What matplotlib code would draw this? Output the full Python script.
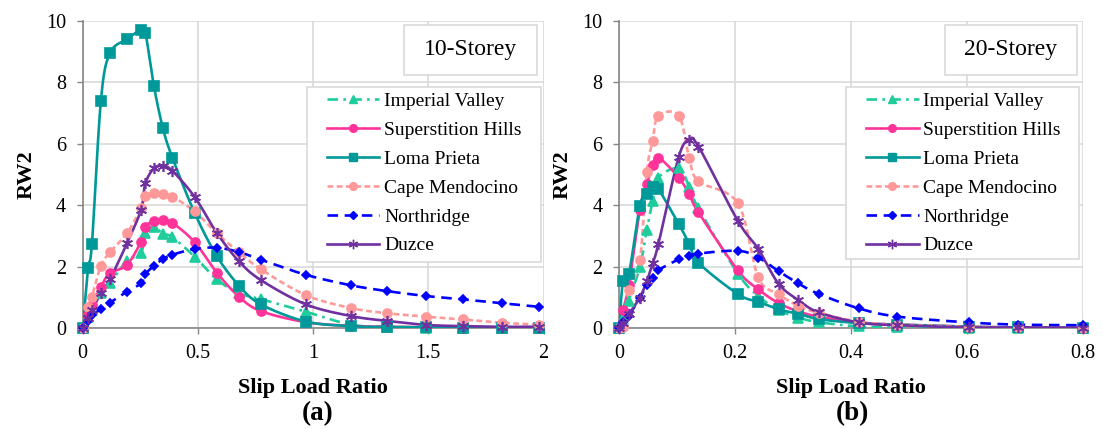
import numpy as np
import matplotlib
matplotlib.use("Agg")
import matplotlib.pyplot as plt
from matplotlib.lines import Line2D
from matplotlib.patches import Rectangle

plt.rcParams['font.family'] = ['Liberation Serif', 'DejaVu Serif']

# ---------------- data ----------------
series_names = ["Imperial Valley", "Superstition Hills", "Loma Prieta",
                "Cape Mendocino", "Northridge", "Duzce"]

x10 = [0, 0.023, 0.040, 0.079, 0.118, 0.192, 0.253, 0.272, 0.309, 0.348, 0.389,
       0.486, 0.582, 0.678, 0.773, 0.968, 1.163, 1.32, 1.49, 1.65, 1.82, 1.98]
imperial10 = [0, 0.38, 0.60, 1.14, 1.46, 2.19, 2.45, 3.10, 3.29, 3.08, 2.96,
              2.33, 1.59, 1.14, 0.95, 0.54, 0.12, 0.05, 0.02, 0.01, 0.01, 0.01]
superstition10 = [0, 0.42, 0.75, 1.35, 1.79, 2.06, 2.82, 3.30, 3.49, 3.52, 3.43,
                  2.80, 1.81, 1.03, 0.56, 0.20, 0.08, 0.05, 0.03, 0.02, 0.02, 0.02]
loma10 = [0, 1.95, 2.74, 7.40, 8.94, 9.40, 9.70, 9.61, 7.88, 6.51, 5.55,
          3.75, 2.35, 1.39, 0.78, 0.22, 0.07, 0.04, 0.03, 0.02, 0.02, 0.02]
cape10 = [0, 0.68, 1.03, 2.03, 2.47, 3.09, 3.90, 4.31, 4.39, 4.37, 4.28,
          3.80, 3.09, 2.47, 1.92, 1.08, 0.66, 0.49, 0.38, 0.29, 0.18, 0.12]
northridge10 = [0, 0.25, 0.42, 0.62, 0.83, 1.19, 1.46, 1.76, 2.03, 2.25, 2.39,
                2.58, 2.62, 2.48, 2.23, 1.74, 1.40, 1.21, 1.05, 0.94, 0.81, 0.70]
duzce10 = [0, 0.33, 0.60, 1.14, 1.59, 2.76, 3.85, 4.71, 5.20, 5.28, 5.12,
           4.27, 3.10, 2.18, 1.57, 0.78, 0.40, 0.24, 0.11, 0.07, 0.05, 0.05]

x20 = [0, 0.007, 0.017, 0.036, 0.048, 0.058, 0.068, 0.103, 0.121, 0.137,
       0.205, 0.240, 0.275, 0.309, 0.344, 0.413, 0.480, 0.603, 0.688, 0.80]
imperial20 = [0, 0.30, 0.90, 2.00, 3.20, 4.15, 4.90, 5.20, 4.60, 3.90,
              1.78, 1.05, 0.60, 0.35, 0.20, 0.06, 0.03, 0.01, 0.01, 0.01]
superstition20 = [0, 0.60, 1.40, 3.85, 4.69, 5.30, 5.55, 4.90, 4.35, 3.77,
                  1.88, 1.27, 0.82, 0.55, 0.38, 0.18, 0.12, 0.05, 0.03, 0.02]
loma20 = [0, 1.54, 1.75, 3.98, 4.37, 4.58, 4.52, 3.39, 2.75, 2.13,
          1.11, 0.86, 0.62, 0.47, 0.30, 0.17, 0.12, 0.05, 0.03, 0.02]
cape20 = [0, 0.05, 1.25, 2.22, 5.09, 6.09, 6.91, 6.91, 5.55, 4.78,
          4.06, 1.66, 1.11, 0.73, 0.50, 0.22, 0.12, 0.05, 0.03, 0.02]
northridge20 = [0, 0.22, 0.41, 1.00, 1.40, 1.65, 1.89, 2.24, 2.34, 2.43,
                2.52, 2.30, 1.86, 1.46, 1.12, 0.65, 0.38, 0.19, 0.12, 0.10]
duzce20 = [0, 0.17, 0.46, 1.00, 1.54, 2.11, 2.75, 5.57, 6.11, 5.91,
           3.49, 2.58, 1.45, 0.92, 0.52, 0.19, 0.10, 0.03, 0.03, 0.02]

x10_ticks = [0, 0.5, 1, 1.5, 2]
x10_labels = ["0", "0.5", "1", "1.5", "2"]
x20_ticks = [0, 0.2, 0.4, 0.6, 0.8]
x20_labels = ["0", "0.2", "0.4", "0.6", "0.8"]
y_ticks = [0, 2, 4, 6, 8, 10]

# ---------------- styles ----------------
styles = [
    dict(color="#1fcc9c", ls=(0, (4, 2, 1, 2)), marker="^", ms=6.5),
    dict(color="#ff3399", ls="-", marker="o", ms=6.5),
    dict(color="#009999", ls="-", marker="s", ms=6.5),
    dict(color="#ff9999", ls=(0, (2.2, 1.3)), marker="o", ms=6.5),
    dict(color="#0000ff", ls=(0, (4, 2.5)), marker="D", ms=4.5),
    dict(color="#7030a0", ls="-", marker=(6, 2, 0), ms=8),
]


def smooth(x, y, n=16):
    """Catmull-Rom (Excel-like) smoothing through the data points."""
    x = np.asarray(x, float)
    y = np.asarray(y, float)
    P = np.column_stack([x, y])
    Pp = np.vstack([P[0], P, P[-1]])
    out = [P[0]]
    t = np.linspace(0, 1, n + 1)[1:]
    for i in range(len(P) - 1):
        p0, p1, p2, p3 = Pp[i], Pp[i + 1], Pp[i + 2], Pp[i + 3]
        c1 = p1 + (p2 - p0) / 6.0
        c2 = p2 - (p3 - p1) / 6.0
        for tt in t:
            b = ((1 - tt) ** 3) * p1 + 3 * ((1 - tt) ** 2) * tt * c1 \
                + 3 * (1 - tt) * tt ** 2 * c2 + tt ** 3 * p2
            out.append(b)
    out = np.array(out)
    return out[:, 0], out[:, 1]


fig = plt.figure(figsize=(11.03, 4.29), dpi=100)
ax1 = fig.add_axes([82.7 / 1103, (429 - 328.3) / 429, 460.8 / 1103, 307.6 / 429])
ax2 = fig.add_axes([619.0 / 1103, (429 - 328.3) / 429, 464.0 / 1103, 307.6 / 429])

data10 = [imperial10, superstition10, loma10, cape10, northridge10, duzce10]
data20 = [imperial20, superstition20, loma20, cape20, northridge20, duzce20]


def draw(ax, xs, datas, xticks, xlabels, xmax, boxtext, label_letter, label_x,
         legbox, storeybox):
    for name, ys, st in zip(series_names, datas, styles):
        sx, sy = smooth(xs, ys)
        ax.plot(sx, sy, color=st["color"], ls=st["ls"], lw=1.9, zorder=3,
                clip_on=True)
        ax.plot(xs, ys, ls="none", marker=st["marker"], ms=st["ms"],
                color=st["color"], mec=st["color"], mew=1.2, zorder=4,
                clip_on=False)
    ax.set_xlim(0, xmax)
    ax.set_ylim(0, 10)
    ax.set_xticks(xticks)
    ax.set_xticklabels(xlabels)
    ax.set_yticks(y_ticks)
    ax.tick_params(axis="both", labelsize=14.5, color="#868686", length=4,
                   width=1, direction="out")
    ax.tick_params(axis="x", pad=7)
    ax.tick_params(axis="y", pad=8)
    ax.grid(True, color="#d9d9d9", lw=1.2)
    ax.set_axisbelow(True)
    for s in ["top", "right"]:
        ax.spines[s].set_visible(False)
    for s in ["left", "bottom"]:
        ax.spines[s].set_color("#868686")
        ax.spines[s].set_linewidth(1.2)
    ax.set_xlabel("Slip Load Ratio", fontsize=16, fontweight="bold", labelpad=11)
    ax.set_ylabel("RW2", fontsize=16, fontweight="bold", labelpad=7)

    # legend frame
    x0, y0, x1, y1 = legbox
    ax.add_patch(Rectangle((x0, y0), x1 - x0, y1 - y0, transform=ax.transAxes,
                           fc="white", ec="#d9d9d9", lw=1.2, zorder=5))
    handles = [Line2D([], [], color=st["color"], ls=st["ls"], lw=1.9,
                      marker=st["marker"], ms=st["ms"] * 0.85, mec=st["color"])
               for st in styles]
    leg = ax.legend(handles, series_names, loc="upper left",
                    bbox_to_anchor=(x0 + 0.044, y1 - 0.018), fontsize=14,
                    frameon=False, handlelength=2.7, handletextpad=0.25,
                    labelspacing=0.58, borderpad=0, borderaxespad=0)
    leg.set_zorder(6)

    # storey box
    bx0, by0, bx1, by1 = storeybox
    ax.add_patch(Rectangle((bx0, by0), bx1 - bx0, by1 - by0,
                           transform=ax.transAxes, fc="white", ec="#d9d9d9",
                           lw=1.2, zorder=5))
    ax.text((bx0 + bx1) / 2, (by0 + by1) / 2, boxtext, transform=ax.transAxes,
            fontsize=17, ha="center", va="center", zorder=6)
    fig.text(label_x, 0.006, label_letter, fontsize=19.5, fontweight="bold",
             ha="center", va="bottom")


draw(ax1, x10, data10, x10_ticks, x10_labels, 2, "10-Storey", "(a)",
     318 / 1103, (0.486, 0.2165, 0.994, 0.785), (0.697, 0.8235, 0.986, 0.986))
draw(ax2, x20, data20, x20_ticks, x20_labels, 0.8, "20-Storey", "(b)",
     852 / 1103, (0.4886, 0.224, 0.991, 0.785), (0.7026, 0.8235, 0.987, 0.986))

fig.savefig("out.png", dpi=100)
